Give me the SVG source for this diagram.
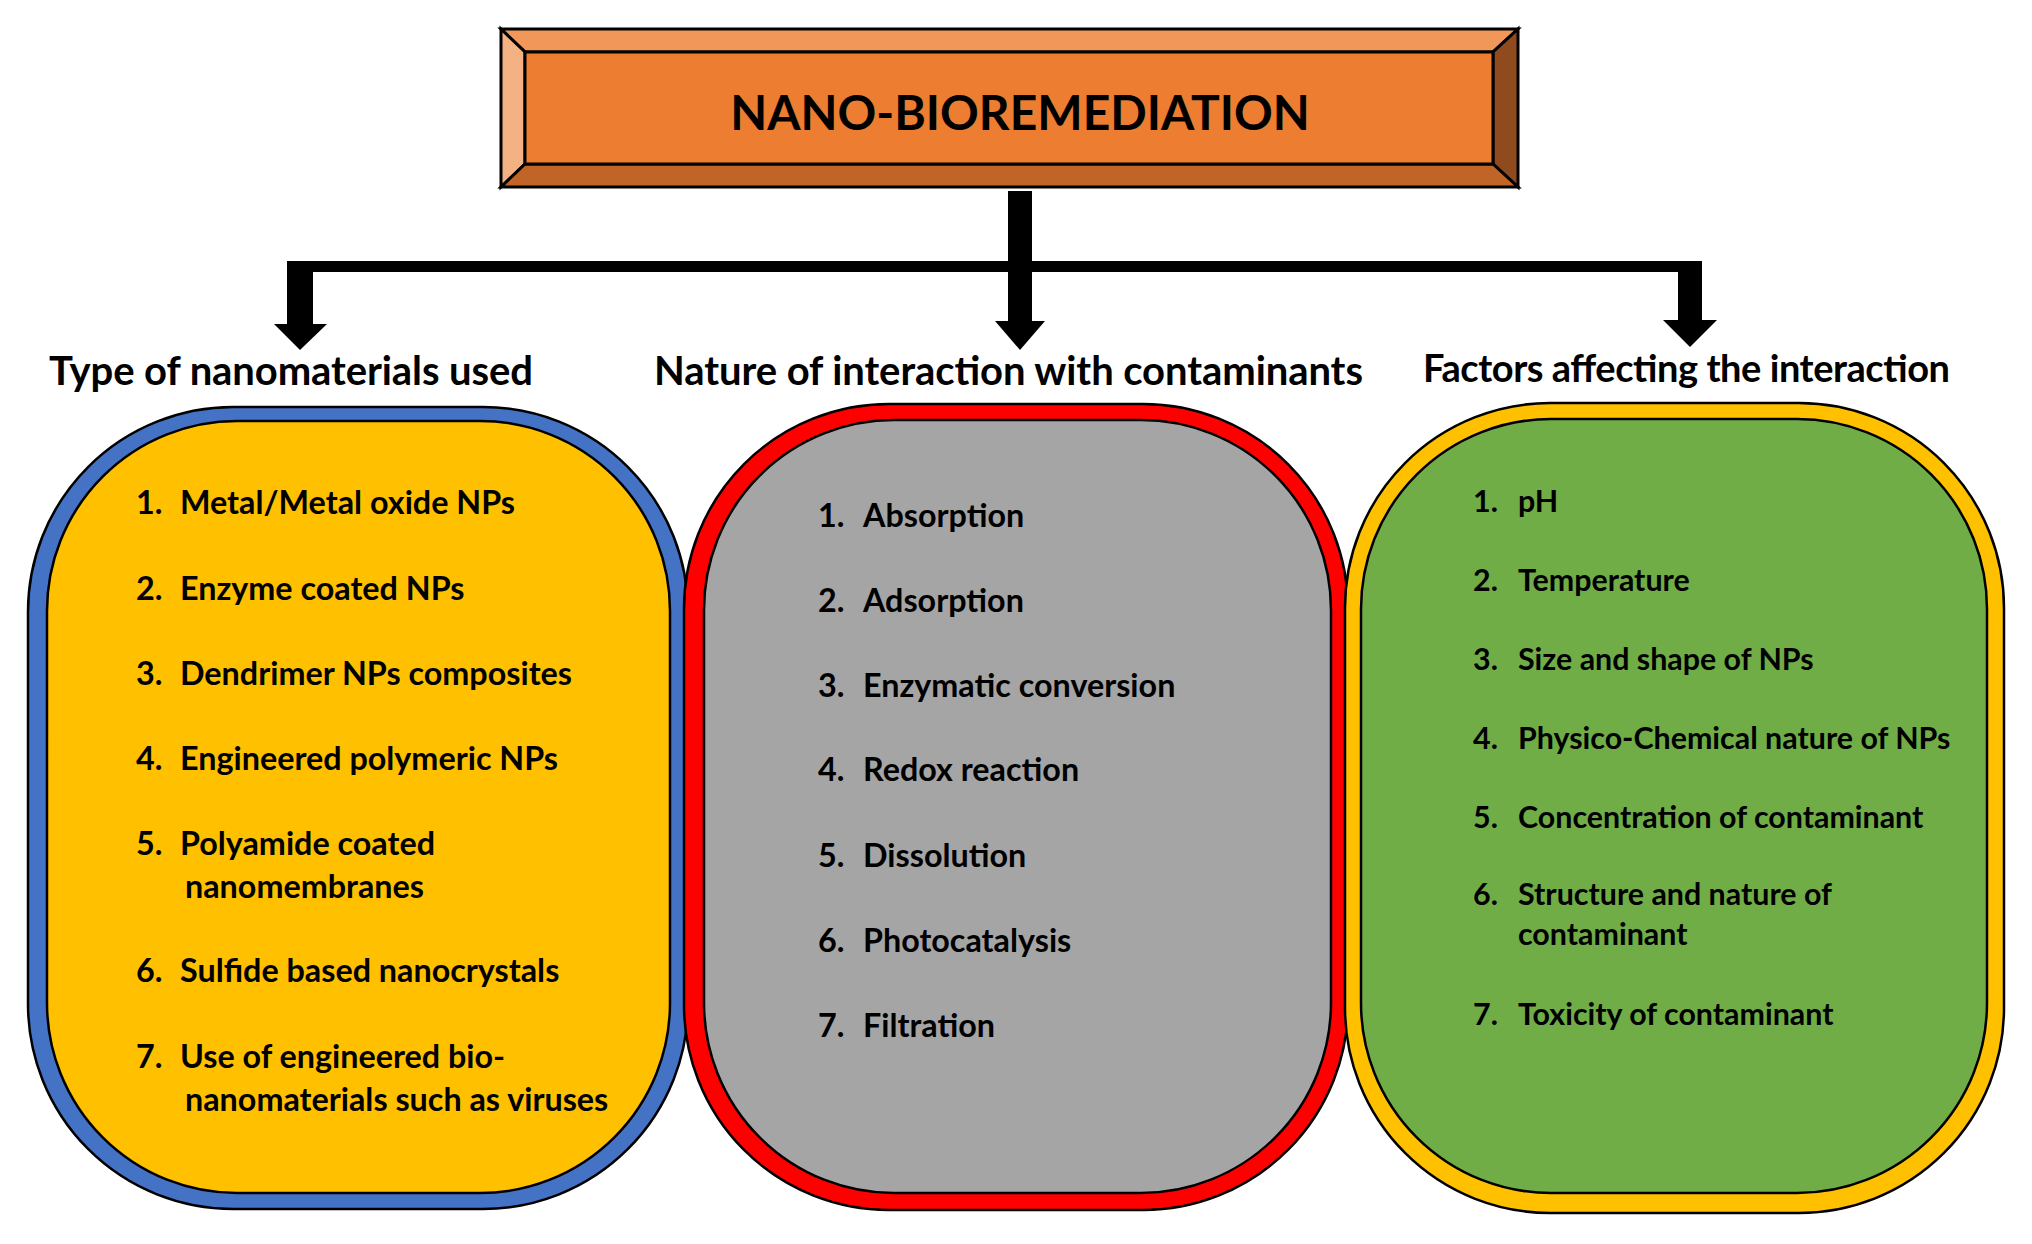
<svg xmlns="http://www.w3.org/2000/svg" width="2032" height="1244" viewBox="0 0 2032 1244">
<style>
.t{font-family:Lato,"Liberation Sans",sans-serif;font-weight:bold;fill:#000}
.title{font-size:48px}
.head{font-size:40px}
.item{font-size:32.3px}
.item2{font-size:30.4px}
.bev{stroke:#000;stroke-width:3;stroke-linejoin:miter}
.ol{stroke:#000;stroke-width:2.5}
.conn{fill:#000;stroke:none}
</style>
<rect width="2032" height="1244" fill="#fff"/>
<g id="title">
<polygon class="bev" points="501,29 1518,29 1493,52 525,52" fill="#F1975A"/>
<polygon class="bev" points="501,29 525,52 525,164 501,187" fill="#F4B183"/>
<polygon class="bev" points="1518,29 1518,187 1493,164 1493,52" fill="#8F4A1E"/>
<polygon class="bev" points="501,187 525,164 1493,164 1518,187" fill="#C06428"/>
<rect class="bev" x="525" y="52" width="968" height="112" fill="#ED7D31"/>
<text class="t title" x="1020" y="130" text-anchor="middle">NANO-BIOREMEDIATION</text>
</g>
<g id="connectors">
<rect class="conn" x="1008" y="191" width="24" height="132"/>
<polygon class="conn" points="995,321 1045,321 1020,350"/>
<rect class="conn" x="287" y="261" width="1415" height="11"/>
<rect class="conn" x="287" y="261" width="26" height="64"/>
<polygon class="conn" points="274,324 327,324 300,350"/>
<rect class="conn" x="1678" y="261" width="24" height="60"/>
<polygon class="conn" points="1663,320 1717,320 1690,347"/>
</g>
<g id="heading-types"><text class="t head" x="49" y="385" textLength="484">Type of nanomaterials used</text></g>
<g id="heading-nature"><text class="t head" x="654" y="385" textLength="709">Nature of interaction with contaminants</text></g>
<g id="heading-factors"><text class="t head" x="1423" y="382" textLength="527" style="font-size:38px">Factors affecting the interaction</text></g>
<g id="box-types">
<rect class="ol" x="28" y="407" width="660" height="802" rx="205" fill="#4472C4"/>
<rect class="ol" x="47" y="421" width="623" height="772" rx="190" fill="#FFC000"/>
<g class="t item">
<text x="136" y="514">1.</text><text x="180" y="514">Metal/Metal oxide NPs</text>
<text x="136" y="600">2.</text><text x="180" y="600">Enzyme coated NPs</text>
<text x="136" y="685">3.</text><text x="180" y="685">Dendrimer NPs composites</text>
<text x="136" y="770">4.</text><text x="180" y="770">Engineered polymeric NPs</text>
<text x="136" y="855">5.</text><text x="180" y="855">Polyamide coated</text>
<text x="185" y="898">nanomembranes</text>
<text x="136" y="982">6.</text><text x="180" y="982">Sulfide based nanocrystals</text>
<text x="136" y="1068">7.</text><text x="180" y="1068">Use of engineered bio-</text>
<text x="185" y="1111">nanomaterials such as viruses</text>
</g>
</g>
<g id="box-nature">
<rect class="ol" x="684" y="404" width="664" height="806" rx="205" fill="#FF0000"/>
<rect class="ol" x="704" y="420" width="627" height="773" rx="190" fill="#A5A5A5"/>
<g class="t item">
<text x="818" y="527">1.</text><text x="863" y="527">Absorption</text>
<text x="818" y="612">2.</text><text x="863" y="612">Adsorption</text>
<text x="818" y="697">3.</text><text x="863" y="697">Enzymatic conversion</text>
<text x="818" y="781">4.</text><text x="863" y="781">Redox reaction</text>
<text x="818" y="867">5.</text><text x="863" y="867">Dissolution</text>
<text x="818" y="952">6.</text><text x="863" y="952">Photocatalysis</text>
<text x="818" y="1037">7.</text><text x="863" y="1037">Filtration</text>
</g>
</g>
<g id="box-factors">
<rect class="ol" x="1345" y="403" width="659" height="810" rx="205" fill="#FFC000"/>
<rect class="ol" x="1361" y="419" width="626" height="774" rx="190" fill="#70AD47"/>
<g class="t item2">
<text x="1473" y="512">1.</text><text x="1518" y="512">pH</text>
<text x="1473" y="591">2.</text><text x="1518" y="591">Temperature</text>
<text x="1473" y="670">3.</text><text x="1518" y="670">Size and shape of NPs</text>
<text x="1473" y="749">4.</text><text x="1518" y="749">Physico-Chemical nature of NPs</text>
<text x="1473" y="828">5.</text><text x="1518" y="828">Concentration of contaminant</text>
<text x="1473" y="905">6.</text><text x="1518" y="905">Structure and nature of</text>
<text x="1518" y="945">contaminant</text>
<text x="1473" y="1025">7.</text><text x="1518" y="1025">Toxicity of contaminant</text>
</g>
</g>
</svg>
